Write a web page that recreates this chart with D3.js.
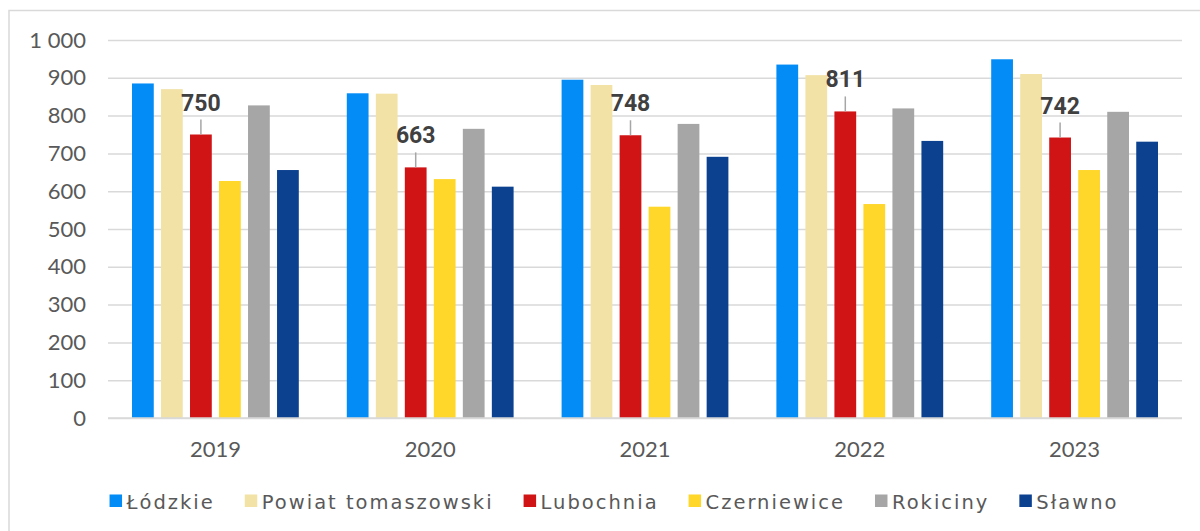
<!DOCTYPE html>
<html>
<head>
<meta charset="utf-8">
<script src="https://cdn.jsdelivr.net/npm/d3@7"></script>
<style>
  html, body { margin: 0; padding: 0; background: #fff; }
  svg { display: block; }
</style>
</head>
<body>
<svg id="chart" width="1200" height="531"></svg>
<script>
const years = ["2019", "2020", "2021", "2022", "2023"];
const seriesNames = ["Łódzkie", "Powiat tomaszowski", "Lubochnia", "Czerniewice", "Rokiciny", "Sławno"];
const seriesColors = ["#038cf5", "#f3e2a6", "#d01315", "#ffd62a", "#a6a6a6", "#0c418f"];
const lodzkie = [885, 859, 895, 935, 949];
const powiatTomaszowski = [870, 858, 881, 907, 910];
const lubochnia = [750, 663, 748, 811, 742];
const czerniewice = [627, 632, 559, 566, 656];
const rokiciny = [827, 765, 778, 819, 810];
const slawno = [656, 612, 691, 733, 731];
const yTicks = [0, 100, 200, 300, 400, 500, 600, 700, 800, 900, 1000];
const labeledSeries = "Lubochnia";

const seriesValues = [lodzkie, powiatTomaszowski, lubochnia, czerniewice, rokiciny, slawno];
const data = years.map((y, i) => ({
  year: y,
  values: seriesNames.map((s, j) => ({ series: s, value: seriesValues[j][i] }))
}));

const svg = d3.select("#chart");
const W = 1200, H = 531;
const margin = { top: 40, right: 18, bottom: 113, left: 108 };
const plotW = W - margin.left - margin.right;
const plotH = H - margin.top - margin.bottom;
const font = "'Lato', 'DejaVu Sans', sans-serif";
const legendFont = "'DejaVu Sans', sans-serif";

// outer frame
svg.append("path")
  .attr("d", `M9,${H} L9,10.5 L${W},10.5`)
  .attr("fill", "none").attr("stroke", "#d9d9d9").attr("stroke-width", 1.5);

const g = svg.append("g").attr("transform", `translate(${margin.left},${margin.top})`);

const x0 = d3.scaleBand().domain(years).range([0, plotW]).paddingInner(0).paddingOuter(0);
const x1 = d3.scaleBand().domain(seriesNames).range([24, x0.bandwidth() - 24]).paddingInner(0.25).paddingOuter(0);
const y = d3.scaleLinear().domain([0, 1000]).range([plotH, 0]);
const color = d3.scaleOrdinal().domain(seriesNames).range(seriesColors);

// gridlines
const yAxis = d3.axisLeft(y).tickValues(yTicks).tickSize(-plotW).tickPadding(22)
  .tickFormat(d => d3.format(",")(d).replace(/,/g, " "));
const ya = g.append("g").call(yAxis);
ya.select(".domain").remove();
ya.selectAll(".tick line").attr("stroke", "#d9d9d9").attr("stroke-width", 1.5);
ya.selectAll(".tick text").attr("fill", "#595959").style("font-family", font).style("font-size", "22px");

// bars
const groups = g.selectAll(".grp").data(data).join("g")
  .attr("transform", d => `translate(${x0(d.year)},0)`);
groups.selectAll("rect").data(d => d.values).join("rect")
  .attr("x", d => x1(d.series))
  .attr("y", d => y(d.value))
  .attr("width", x1.bandwidth())
  .attr("height", d => plotH - y(d.value))
  .attr("fill", d => color(d.series));

// data labels with leader lines
const lab = groups.selectAll(".lab").data(d => d.values.filter(v => v.series === labeledSeries)).join("g");
lab.append("line")
  .attr("x1", d => x1(d.series) + x1.bandwidth() / 2)
  .attr("x2", d => x1(d.series) + x1.bandwidth() / 2)
  .attr("y1", d => y(d.value) - 15)
  .attr("y2", d => y(d.value))
  .attr("stroke", "#a6a6a6").attr("stroke-width", 1.5);
lab.append("text")
  .attr("x", d => x1(d.series) + x1.bandwidth() / 2)
  .attr("y", d => y(d.value) - 24)
  .attr("text-anchor", "middle")
  .attr("fill", "#404040")
  .style("font-family", "'Roboto', 'Liberation Sans', sans-serif")
  .style("font-weight", "bold")
  .style("font-size", "23px")
  .text(d => d.value);

// x axis baseline
g.append("line").attr("x1", 0).attr("x2", plotW).attr("y1", plotH).attr("y2", plotH)
  .attr("stroke", "#d9d9d9").attr("stroke-width", 1.5);

// x labels
g.selectAll(".xl").data(years).join("text")
  .attr("x", d => x0(d) + x0.bandwidth() / 2)
  .attr("y", plotH + 39)
  .attr("text-anchor", "middle")
  .attr("fill", "#595959")
  .style("font-family", font).style("font-size", "22px")
  .text(d => d);

// legend
const legend = svg.append("g");
let cx = 0;
const items = legend.selectAll(".li").data(seriesNames).join("g");
items.append("rect").attr("width", 12.5).attr("height", 12.5).attr("y", -6.5)
  .attr("fill", d => color(d));
items.append("text").attr("x", 17).attr("y", 7.5)
  .attr("fill", "#595959").style("font-family", legendFont).style("font-size", "19.5px")
  .style("letter-spacing", "2px")
  .text(d => d);
items.each(function () {
  const t = d3.select(this).select("text").node().getComputedTextLength();
  d3.select(this).attr("transform", `translate(${cx},0)`);
  cx += 17 + t + 30;
});
const totalW = cx - 30;
legend.attr("transform", `translate(${614 - totalW / 2},501)`);
</script>
</body>
</html>
